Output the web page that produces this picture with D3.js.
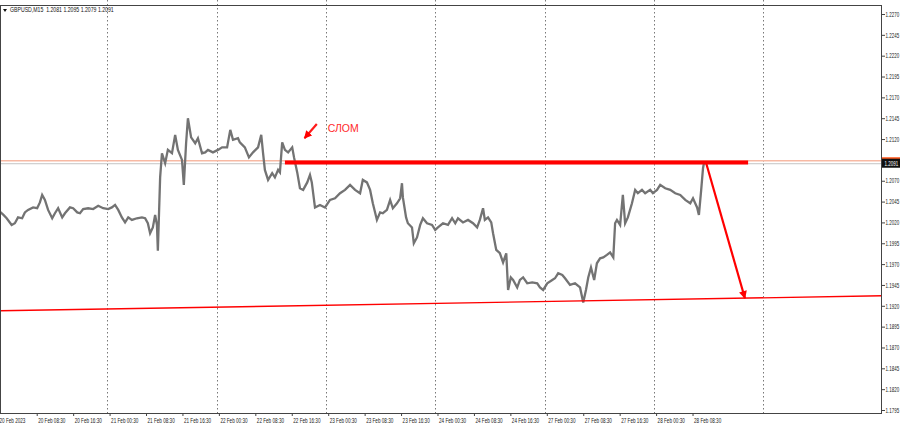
<!DOCTYPE html>
<html><head><meta charset="utf-8">
<script src="https://cdn.jsdelivr.net/npm/d3@7/dist/d3.min.js"></script>
<style>html,body{margin:0;padding:0;background:#fff;overflow:hidden}</style>
</head><body><svg id="c" width="900" height="427"></svg>
<script>
// ---- data (trading hours since 20 Feb 2023 00:00, weekend removed) ----
const seriesHours = [0.4,1.2,1.9,3.0,3.7,4.4,5.3,5.9,6.6,7.7,8.6,9.2,9.7,10.3,11.0,11.9,12.5,13.2,14.1,14.7,15.8,16.5,17.4,18.0,18.7,19.8,20.9,22.0,23.1,24.2,25.0,25.7,26.4,27.2,27.9,28.6,29.4,30.5,31.6,32.3,32.9,33.4,34.0,34.5,34.9,35.1,35.6,36.0,36.7,37.3,38.2,38.9,39.5,40.4,40.8,41.3,41.7,42.4,43.3,43.9,44.8,45.5,46.1,47.2,48.3,49.2,50.3,51.0,51.6,52.7,53.1,54.2,55.1,56.0,57.1,57.8,58.2,58.6,59.3,60.2,60.8,61.5,61.9,62.4,63.0,63.7,64.6,65.0,65.7,66.3,67.0,67.9,68.5,68.9,69.6,70.7,71.8,72.9,74.0,75.1,76.2,77.3,78.4,79.5,80.1,81.0,81.7,82.3,83.2,83.9,84.5,85.4,86.1,86.7,87.6,88.3,88.7,88.9,89.6,90.0,90.9,91.3,92.0,92.7,93.3,94.2,95.3,96.0,96.6,97.7,98.8,99.7,100.4,101.0,102.1,103.2,104.3,105.2,105.8,106.5,106.9,107.6,108.3,108.7,109.4,110.2,110.9,111.6,112.0,112.6,113.1,114.0,114.6,115.3,116.2,117.3,118.4,119.0,119.7,120.6,121.7,122.3,123.0,123.9,124.5,125.6,126.7,127.8,128.5,129.1,129.6,130.2,130.9,131.5,132.2,132.9,133.7,134.4,135.1,135.5,135.9,136.6,137.2,137.7,138.3,139.2,139.9,140.5,141.4,142.1,143.2,143.8,144.7,145.4,146.5,147.6,148.7,149.8,150.9,152.0,152.6,153.5,153.9,154.4,154.8,155.0];
const seriesClose = [1.2033,1.2029,1.2025,1.2017,1.2019,1.2026,1.2025,1.2032,1.2035,1.2038,1.2037,1.2044,1.2053,1.2047,1.2035,1.2025,1.2031,1.2037,1.2026,1.2031,1.2038,1.2037,1.2032,1.2031,1.2036,1.2037,1.2036,1.2040,1.2037,1.2036,1.2038,1.2041,1.2035,1.2026,1.2020,1.2026,1.2023,1.2025,1.2026,1.2025,1.2019,1.2007,1.2014,1.2029,1.2017,1.1986,1.2074,1.2103,1.2091,1.2107,1.2103,1.2125,1.2107,1.2095,1.2065,1.2115,1.2145,1.2122,1.2115,1.2121,1.2103,1.2104,1.2107,1.2104,1.2107,1.2110,1.2110,1.2131,1.2119,1.2121,1.2116,1.2110,1.2098,1.2104,1.2110,1.2125,1.2103,1.2083,1.2071,1.2079,1.2074,1.2083,1.2080,1.2116,1.2107,1.2104,1.2110,1.2098,1.2080,1.2061,1.2059,1.2068,1.2077,1.2068,1.2038,1.2041,1.2038,1.2047,1.2049,1.2055,1.2059,1.2065,1.2059,1.2055,1.2071,1.2068,1.2059,1.2043,1.2023,1.2032,1.2031,1.2035,1.2047,1.2037,1.2043,1.2049,1.2067,1.2050,1.2026,1.2019,1.2014,1.1995,1.2002,1.2017,1.2025,1.2019,1.2017,1.2011,1.2014,1.2019,1.2017,1.2025,1.2019,1.2025,1.2020,1.2023,1.2019,1.2014,1.2023,1.2037,1.2023,1.2026,1.2020,1.2007,1.1987,1.1983,1.1972,1.1983,1.1939,1.1954,1.1951,1.1942,1.1951,1.1954,1.1947,1.1948,1.1947,1.1942,1.1939,1.1947,1.1951,1.1953,1.1959,1.1957,1.1953,1.1945,1.1947,1.1942,1.1924,1.1939,1.1954,1.1966,1.1951,1.1971,1.1977,1.1978,1.1981,1.1984,1.1978,1.2019,1.2023,1.2017,1.2053,1.2019,1.2026,1.2043,1.2059,1.2055,1.2059,1.2055,1.2059,1.2055,1.2059,1.2065,1.2061,1.2059,1.2055,1.2053,1.2047,1.2043,1.2049,1.2038,1.2029,1.2059,1.2085,1.2091];
const priceTicks = [1.2270,1.2245,1.2220,1.2195,1.2170,1.2145,1.2120,1.2095,1.2070,1.2045,1.2020,1.1995,1.1970,1.1945,1.1920,1.1895,1.1870,1.1845,1.1820,1.1795];
const timeTicks = [0,8.5,16.5,24.5,32.5,40.5,48.5,56.5,64.5,72.5,80.5,88.5,96.5,104.5,112.5,120.5,128.5,136.5,144.5,152.5];
const timeLabels = ["20 Feb 2023","20 Feb 08:30","20 Feb 16:30","21 Feb 00:30","21 Feb 08:30","21 Feb 16:30","22 Feb 00:30","22 Feb 08:30","22 Feb 16:30","23 Feb 00:30","23 Feb 08:30","23 Feb 16:30","24 Feb 00:30","24 Feb 08:30","24 Feb 16:30","27 Feb 00:30","27 Feb 08:30","27 Feb 16:30","28 Feb 00:30","28 Feb 08:30"];
const daySeparators = [24,48,72,96,120,144,168];
const lastPrice = 1.2091;
const askLevel = 1.2094;
const breakLevel = [[63.0,1.2092],[164.7,1.2092]];
const supportLine = [[0.4,1.1914],[194.1,1.1932]];
const targetArrow = [[155.5,1.2091],[164.0,1.1929]];
const breakArrow = [[70.0,1.2138],[67.3,1.2121]];
const breakLabel = {h:72.4, p:1.2129, text:"СЛОМ"};
const titleText = "GBPUSD,M15  1.2081 1.2095 1.2079 1.2091";

// ---- chart ----
const svg = d3.select("#c");
const L=0,R=882,T=5,B=413;
const x = d3.scaleLinear().domain([0,194.1]).range([-2,882]);
const y = d3.scaleLinear().domain([1.1795,1.2270]).range([410,14]);
const FONT = "'Liberation Sans', Arial, sans-serif";

svg.append("rect").attr("width",900).attr("height",427).attr("fill","#fff");
const defs = svg.append("defs");
defs.append("clipPath").attr("id","clip").append("rect").attr("x",L).attr("y",T).attr("width",R-L).attr("height",B-T);
function mk(id,w,h){
  defs.append("marker").attr("id",id).attr("viewBox","0 0 10 10").attr("refX",9).attr("refY",5)
    .attr("markerUnits","userSpaceOnUse").attr("markerWidth",w).attr("markerHeight",h).attr("orient","auto")
    .append("path").attr("d","M0,0L10,5L0,10z").attr("fill","#ff0000");
}
mk("ah",9,8); mk("ah2",8,8);

// day separators (dotted)
svg.append("g").selectAll("line").data(daySeparators).join("line")
  .attr("x1",d=>Math.round(x(d))+0.5).attr("x2",d=>Math.round(x(d))+0.5).attr("y1",0).attr("y2",B)
  .attr("stroke","#555").attr("stroke-width",0.8).attr("stroke-dasharray","1.5,2.5");

const g = svg.append("g").attr("clip-path","url(#clip)");
// ask / bid lines
g.append("line").attr("x1",L).attr("x2",R).attr("y1",y(askLevel)).attr("y2",y(askLevel)).attr("stroke","#f7b9a4").attr("stroke-width",1.6);
g.append("line").attr("x1",L).attr("x2",R).attr("y1",y(lastPrice)+0.5).attr("y2",y(lastPrice)+0.5).attr("stroke","#c4c4c4").attr("stroke-width",1);

// price line
const pts = seriesHours.map((h,i)=>[h,seriesClose[i]]);
g.append("path").datum(pts).attr("fill","none").attr("stroke","#737373").attr("stroke-width",2.3)
  .attr("stroke-linejoin","miter").attr("d",d3.line().x(d=>x(d[0])).y(d=>y(d[1])));

// support line
g.append("path").datum(supportLine).attr("fill","none").attr("stroke","#ff0000").attr("stroke-width",1.4)
  .attr("d",d3.line().x(d=>x(d[0])).y(d=>y(d[1])));
// break level thick line
g.append("path").datum(breakLevel).attr("fill","none").attr("stroke","#ff0000").attr("stroke-width",4)
  .attr("d",d3.line().x(d=>x(d[0])).y(d=>y(d[1])));
// target arrow
g.append("path").datum(targetArrow).attr("fill","none").attr("stroke","#ff0000").attr("stroke-width",2.2)
  .attr("marker-end","url(#ah)").attr("d",d3.line().x(d=>x(d[0])).y(d=>y(d[1])));
// break arrow
g.append("path").datum(breakArrow).attr("fill","none").attr("stroke","#ff1a1a").attr("stroke-width",2.2)
  .attr("marker-end","url(#ah2)").attr("d",d3.line().x(d=>x(d[0])).y(d=>y(d[1])));
g.append("text").attr("x",x(breakLabel.h)).attr("y",y(breakLabel.p)).attr("fill","#ff2b2b")
  .attr("font-family",FONT).attr("font-size",10.5).text(breakLabel.text);

// frame
svg.append("rect").attr("x",L+0.5).attr("y",T+0.5).attr("width",R-L-1).attr("height",B-T).attr("fill","none").attr("stroke","#444").attr("stroke-width",1);

// right axis (the label under the last-price box is hidden, as in the terminal)
const ay = svg.append("g").attr("transform",`translate(${R},0)`)
  .call(d3.axisRight(y).tickValues(priceTicks).tickSize(3)
    .tickFormat(d=>Math.abs(y(d)-y(lastPrice))<8 ? "" : d3.format(".4f")(d)));
ay.select(".domain").remove();
ay.selectAll(".tick line").attr("stroke","#444");
ay.selectAll(".tick text").attr("x",null).attr("dy","0.32em").attr("transform","translate(3.6,0) scale(0.64,1)")
  .attr("font-family",FONT).attr("font-size",7).attr("fill","#222");

// last price label
svg.append("rect").attr("x",R).attr("y",y(askLevel)-3.5).attr("width",18).attr("height",3).attr("fill","#ff5a1f");
svg.append("rect").attr("x",R).attr("y",y(lastPrice)-4.5).attr("width",18).attr("height",9).attr("fill","#111");
svg.append("text").attr("x",0).attr("y",0).attr("transform",`translate(${R+2.5},${y(lastPrice)+2.5}) scale(0.64,1)`)
  .attr("font-family",FONT).attr("font-size",7).attr("fill","#fff").text(d3.format(".4f")(lastPrice));

// bottom axis
const ax = svg.append("g").attr("transform",`translate(0,${B})`)
  .call(d3.axisBottom(x).tickValues(timeTicks).tickSize(3).tickFormat((d,i)=>timeLabels[i]));
ax.select(".domain").remove();
ax.selectAll(".tick line").attr("stroke","#444");
ax.selectAll(".tick text").attr("y",null).attr("dy",null).attr("text-anchor","start")
  .attr("transform","translate(1,9.5) scale(0.66,1)")
  .attr("font-family",FONT).attr("font-size",7).attr("fill","#222");

// title
svg.append("path").attr("d","M3,9L7,9L5,12z").attr("fill","#111");
svg.append("text").attr("transform","translate(10,12) scale(0.74,1)").attr("font-family",FONT)
  .attr("font-size",7).attr("fill","#111").attr("xml:space","preserve").style("white-space","pre").text(titleText);
</script></body></html>
